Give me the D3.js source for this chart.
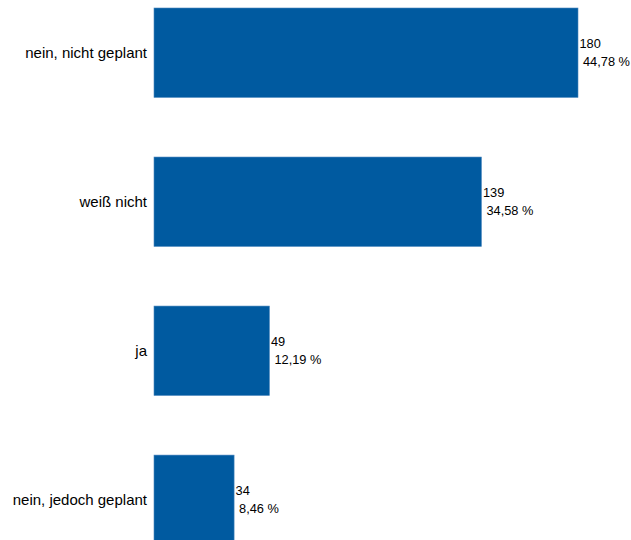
<!DOCTYPE html>
<html>
<head>
<meta charset="utf-8">
<script src="https://cdn.jsdelivr.net/npm/d3@7"></script>
<style>
  html, body { margin: 0; padding: 0; background: #fff; }
  svg { display: block; }
  text { font-family: "Liberation Sans", Arial, Helvetica, sans-serif; fill: #000; }
</style>
</head>
<body>
<svg id="chart" width="631" height="540"></svg>
<script>
const categories = ["nein, nicht geplant", "weiß nicht", "ja", "nein, jedoch geplant"];
const counts = [180, 139, 49, 34];
const percents = ["44,78 %", "34,58 %", "12,19 %", "8,46 %"];

const rows = categories.map((c, i) => ({ cat: c, n: counts[i], pct: percents[i] }));

const svg = d3.select("#chart");

const x = d3.scaleLinear().domain([0, 180]).range([154, 578]);
const y = d3.scaleBand().domain(categories).range([8, 544.5]).paddingInner(0.4).paddingOuter(0);

const g = svg.append("g");

g.selectAll("rect.bar")
  .data(rows)
  .join("rect")
  .attr("class", "bar")
  .attr("x", x(0))
  .attr("y", d => y(d.cat))
  .attr("width", d => x(d.n) - x(0))
  .attr("height", y.bandwidth())
  .attr("fill", "#005aa0")
  .attr("stroke", "#4a86bd")
  .attr("stroke-width", 0.6);

// category labels on the left
g.selectAll("text.cat")
  .data(rows)
  .join("text")
  .attr("class", "cat")
  .attr("x", x(0) - 7)
  .attr("y", d => y(d.cat) + y.bandwidth() / 2)
  .attr("text-anchor", "end")
  .attr("dominant-baseline", "central")
  .attr("font-size", 15)
  .text(d => d.cat);

// count and share next to each bar end
g.selectAll("text.count")
  .data(rows)
  .join("text")
  .attr("class", "count")
  .attr("x", d => x(d.n) + 1.5)
  .attr("y", d => y(d.cat) + y.bandwidth() / 2 - 9)
  .attr("dominant-baseline", "central")
  .attr("font-size", 12.8)
  .text(d => d.n);

g.selectAll("text.pct")
  .data(rows)
  .join("text")
  .attr("class", "pct")
  .attr("x", d => x(d.n) + 5)
  .attr("y", d => y(d.cat) + y.bandwidth() / 2 + 9)
  .attr("dominant-baseline", "central")
  .attr("font-size", 12.8)
  .text(d => d.pct);
</script>
</body>
</html>
